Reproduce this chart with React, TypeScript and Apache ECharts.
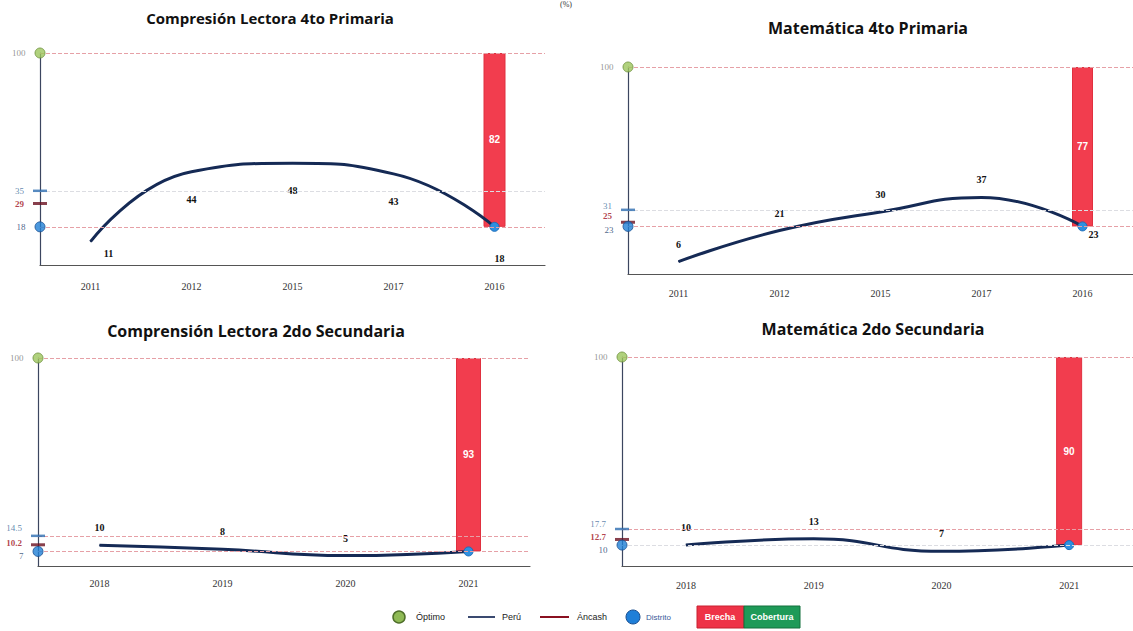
import React, { useEffect, useRef } from "react";
import * as echarts from "echarts";

// ---- data ----
const titles = [
  "Compresión Lectora 4to Primaria",
  "Matemática 4to Primaria",
  "Comprensión Lectora 2do Secundaria",
  "Matemática 2do Secundaria",
];
const years1 = ["2011", "2012", "2015", "2017", "2016"];
const years2 = ["2011", "2012", "2015", "2017", "2016"];
const years3 = ["2018", "2019", "2020", "2021"];
const years4 = ["2018", "2019", "2020", "2021"];
const district1 = [11, 44, 48, 43, 18];
const district2 = [6, 21, 30, 37, 23];
const district3 = [10, 8, 5, 7];
const district4 = [10, 13, 7, 10];
const optimo = [100, 100, 100, 100];
const peru = [35, 31, 14.5, 17.7];
const ancash = [29, 25, 10.2, 12.7];
const distrito = [18, 23, 7, 10];
const brecha = [82, 77, 93, 90];
const legendLabels = ["Óptimo", "Perú", "Áncash", "Distrito", "Brecha", "Cobertura"];

const yearsAll = [years1, years2, years3, years4];
const districtAll = [district1, district2, district3, district4];

// ---- layout / styles ----
const panels = [
  { left: 40, top: 53, width: 505, height: 212, tx: 270, ty: 18, fs: 15, lpos: "bottom", ldist: 22, barW: 22, xm: 16, lastLabel: true, firstOff: [18, -16], lastOff: [5, 0], peruLine: "#dcdde2", distLine: "#e6a0a6", axOff: [[0, 0], [0, 0], [0, 0], [0, 0]] },
  { left: 628, top: 67, width: 510, height: 207, tx: 868, ty: 28, fs: 16, lpos: "top", ldist: 12, barW: 21, xm: 14, lastLabel: true, firstOff: [0, 0], lastOff: [11, 30], peruLine: "#dcdde2", distLine: "#e6a0a6", axOff: [[0, 0], [0, -4], [0, -6], [0, 4]] },
  { left: 38, top: 358, width: 492, height: 208, tx: 256, ty: 331, fs: 16, lpos: "top", ldist: 12, barW: 25, xm: 12, lastLabel: false, firstOff: [0, 0], lastOff: [0, 0], peruLine: "#e6a0a6", distLine: "#e6a0a6", axOff: [[0, 0], [0, -8], [0, -2], [0, 5]] },
  { left: 622, top: 357, width: 512, height: 209, tx: 873, ty: 329, fs: 16, lpos: "top", ldist: 12, barW: 26, xm: 14, lastLabel: false, firstOff: [0, 0], lastOff: [0, 0], peruLine: "#e6a0a6", distLine: "#dcdde2", axOff: [[0, 0], [0, -5], [0, -2], [0, 5]] },
];

const NAVY = "#152a55";
const RED_BAR = "#f23d4e";

export default function App() {
  const ref = useRef<HTMLDivElement>(null);
  useEffect(() => {
    document.body.style.margin = "0";
    if (!ref.current) return;
    const chart = echarts.init(ref.current, undefined, { renderer: "svg" });

    const grid: any[] = [];
    const xAxis: any[] = [];
    const yAxis: any[] = [];
    const series: any[] = [];
    const graphic: any[] = [];

    panels.forEach((p, i) => {
      grid.push({ left: p.left, top: p.top, width: p.width, height: p.height });
      xAxis.push({
        type: "category",
        gridIndex: i,
        data: yearsAll[i],
        boundaryGap: true,
        axisLine: { lineStyle: { color: "#555", width: 1.2 } },
        axisTick: { show: false },
        axisLabel: { fontSize: 10, color: "#333", fontFamily: "Liberation Serif", margin: p.xm },
      });
      xAxis.push({ type: "value", gridIndex: i, min: 0, max: 1, show: false });
      yAxis.push({
        type: "value",
        gridIndex: i,
        min: 0,
        max: 100,
        axisLine: { show: true, lineStyle: { color: "#3c4660", width: 1.2 } },
        axisTick: { show: false },
        axisLabel: { show: false },
        splitLine: { show: false },
      });

      const vals = districtAll[i];
      const n = vals.length;

      // markers on the y axis + dashed reference lines
      series.push({
        type: "scatter",
        xAxisIndex: i * 2 + 1,
        yAxisIndex: i,
        clip: false,
        z: 5,
        data: [
          { value: [0, optimo[i]], symbol: "circle", symbolSize: 10, itemStyle: { color: "#9cc65c", borderColor: "#6c8f3a", borderWidth: 1 }, label: { color: "#777", offset: p.axOff[0] } },
          { value: [0, peru[i]], symbol: "rect", symbolSize: [14, 2.5], itemStyle: { color: "#2d6db0" }, label: { color: "#3a6a9a", offset: p.axOff[1] } },
          { value: [0, ancash[i]], symbol: "rect", symbolSize: [14, 3], itemStyle: { color: "#6a1020" }, label: { color: "#a01020", fontWeight: "bold", offset: p.axOff[2] } },
          { value: [0, distrito[i]], symbol: "circle", symbolSize: 10, itemStyle: { color: "#1f80d6", borderColor: "#1a4f90", borderWidth: 1 }, label: { color: "#203a6a", offset: p.axOff[3] } },
        ],
        label: {
          show: true,
          position: "left",
          distance: 9,
          fontSize: 9,
          fontFamily: "Liberation Serif",
          formatter: (d: any) => String(d.value[1]),
        },
        markLine: {
          silent: true,
          symbol: "none",
          label: { show: false },
          data: [
            { yAxis: optimo[i], lineStyle: { color: "#e6a0a6", type: "dashed", width: 1 } },
            { yAxis: peru[i], lineStyle: { color: p.peruLine, type: "dashed", width: 1 } },
            { yAxis: distrito[i], lineStyle: { color: p.distLine, type: "dashed", width: 1 } },
          ],
        },
      });

      // gap bar (brecha) stacked on district value
      series.push({
        type: "bar",
        xAxisIndex: i * 2,
        yAxisIndex: i,
        stack: "s" + i,
        barWidth: p.barW,
        itemStyle: { color: "transparent" },
        data: vals.map((_, k) => (k === n - 1 ? distrito[i] : "-")),
        z: 2,
      });
      series.push({
        type: "bar",
        xAxisIndex: i * 2,
        yAxisIndex: i,
        stack: "s" + i,
        barWidth: p.barW,
        itemStyle: { color: RED_BAR, borderColor: "#e0303f", borderWidth: 1 },
        label: { show: true, position: "inside", color: "#fff", fontWeight: "bold", fontSize: 10, fontFamily: "Liberation Sans" },
        data: vals.map((_, k) => (k === n - 1 ? brecha[i] : "-")),
        z: 2,
      });

      // district line
      series.push({
        type: "line",
        xAxisIndex: i * 2,
        yAxisIndex: i,
        smooth: true,
        z: 4,
        symbol: "circle",
        symbolSize: 1,
        itemStyle: { color: NAVY },
        lineStyle: { color: NAVY, width: 3 },
        label: {
          show: true,
          position: p.lpos,
          distance: p.ldist,
          fontSize: 10,
          fontWeight: "bold",
          color: "#111",
          fontFamily: "Liberation Serif",
        },
        data: vals.map((v, k) => {
          if (k === n - 1) {
            return {
              value: v,
              symbolSize: 9,
              itemStyle: { color: "#2e90e0", borderColor: "#1c6cb8", borderWidth: 1 },
              label: { show: p.lastLabel, offset: p.lastOff },
            };
          }
          if (k === 0) return { value: v, label: { offset: p.firstOff } };
          return v;
        }),
      });

      graphic.push({
        type: "text",
        x: p.tx,
        y: p.ty,
        style: {
          text: titles[i],
          fontSize: p.fs,
          fontWeight: "bold",
          fontFamily: "Open Sans",
          fill: "#111",
          align: "center",
          verticalAlign: "middle",
        },
      });
    });

    graphic.push({
      type: "text",
      x: 566,
      y: 0,
      style: { text: "(%)", fontSize: 8, fill: "#333", align: "center", verticalAlign: "top", fontFamily: "Liberation Serif" },
    });

    // legend
    const ly = 617;
    graphic.push(
      { type: "circle", shape: { cx: 399, cy: ly, r: 6 }, style: { fill: "#8fba55", stroke: "#4f6f2a", lineWidth: 1.5 } },
      { type: "text", x: 416, y: ly, style: { text: legendLabels[0], fontSize: 9, fill: "#222", verticalAlign: "middle", fontFamily: "Liberation Sans" } },
      { type: "line", shape: { x1: 468, y1: ly, x2: 495, y2: ly }, style: { stroke: "#3a4a70", lineWidth: 2 } },
      { type: "text", x: 502, y: ly, style: { text: legendLabels[1], fontSize: 9, fill: "#222", verticalAlign: "middle", fontFamily: "Liberation Sans" } },
      { type: "line", shape: { x1: 540, y1: ly, x2: 569, y2: ly }, style: { stroke: "#8a1020", lineWidth: 2 } },
      { type: "text", x: 577, y: ly, style: { text: legendLabels[2], fontSize: 9, fill: "#222", verticalAlign: "middle", fontFamily: "Liberation Sans" } },
      { type: "circle", shape: { cx: 633, cy: ly, r: 7 }, style: { fill: "#1f7fd8", stroke: "#1a4f90", lineWidth: 1 } },
      { type: "text", x: 646, y: ly, style: { text: legendLabels[3], fontSize: 8, fill: "#3a5a9a", verticalAlign: "middle", fontFamily: "Liberation Sans" } },
      { type: "rect", shape: { x: 697, y: 606, width: 47, height: 22 }, style: { fill: "#ee3347", stroke: "#c82030", lineWidth: 1 } },
      { type: "text", x: 720, y: ly, style: { text: legendLabels[4], fontSize: 9, fontWeight: "bold", fill: "#fff", align: "center", verticalAlign: "middle", fontFamily: "Liberation Sans" } },
      { type: "rect", shape: { x: 744, y: 606, width: 56, height: 22 }, style: { fill: "#1e9a58", stroke: "#13703c", lineWidth: 1 } },
      { type: "text", x: 772, y: ly, style: { text: legendLabels[5], fontSize: 9, fontWeight: "bold", fill: "#fff", align: "center", verticalAlign: "middle", fontFamily: "Liberation Sans" } }
    );

    chart.setOption({
      animation: false,
      backgroundColor: "#ffffff",
      grid,
      xAxis,
      yAxis,
      series,
      graphic,
    });
    return () => chart.dispose();
  }, []);
  return <div ref={ref} style={{ width: 1133, height: 631 }} />;
}
